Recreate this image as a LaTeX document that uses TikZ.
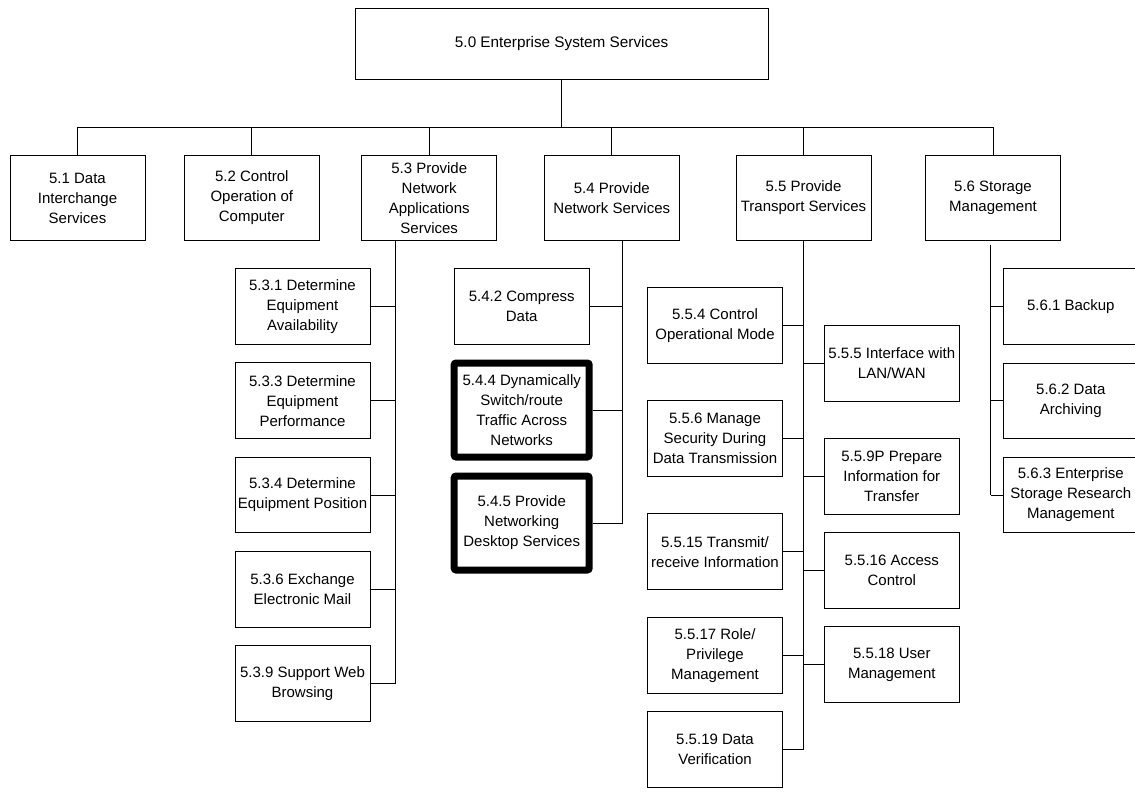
\documentclass[tikz,border=0pt]{standalone}
\usepackage{fontspec}
\setmainfont{Liberation Sans}
\begin{document}
\begin{tikzpicture}[x=1pt,y=-1pt,
  box/.style={draw=black, line width=1pt, fill=white, minimum width=135pt,
    minimum height=75.6pt, inner sep=0pt, align=center,
    font=\fontsize{15}{20}\selectfont},
  topbox/.style={box, minimum height=85.4pt},
  keybox/.style={box, line width=7pt, rounded corners=2pt, minimum height=94pt},
  rootbox/.style={box, minimum width=413.3pt, minimum height=70.7pt,
    font=\fontsize{15.3}{20}\selectfont},
  link/.style={draw=black, line width=0.9pt}]
\useasboundingbox (0,0) rectangle (1135,793);

% root
\node[rootbox] (n50) at (561.7,43.7) {5.0 Enterprise System Services};

% first level
\node[topbox] (n51) at (77.5,198) {5.1 Data\\Interchange\\Services};
\node[topbox] (n52) at (251.8,198) {5.2 Control\\Operation of\\Computer};
\node[topbox] (n53) at (429.2,198) {5.3 Provide\\Network\\Applications\\Services};
\node[topbox] (n54) at (611.8,198) {5.4 Provide\\Network Services};
\node[topbox] (n55) at (803.5,198) {5.5 Provide\\Transport Services};
\node[topbox] (n56) at (993,198) {5.6 Storage\\Management};

% 5.3 branch
\node[box] (n531) at (302.5,306.3) {5.3.1 Determine\\Equipment\\Availability};
\node[box] (n533) at (302.5,400.7) {5.3.3 Determine\\Equipment\\Performance};
\node[box] (n534) at (302.5,495) {5.3.4 Determine\\Equipment Position};
\node[box] (n536) at (302.5,589.5) {5.3.6 Exchange\\Electronic Mail};
\node[box] (n539) at (302.5,683.5) {5.3.9 Support Web\\Browsing};

% 5.4 branch
\node[box] (n542) at (521.7,306.7) {5.4.2 Compress\\Data};
\node[keybox] (n544) at (521.7,410) {5.4.4 Dynamically\\Switch/route\\Traffic Across\\Networks};
\node[keybox] (n545) at (521.7,523) {5.4.5 Provide\\Networking\\Desktop Services};

% 5.5 branch, left column
\node[box] (n554) at (715,325.5) {5.5.4 Control\\Operational Mode};
\node[box] (n556) at (715,438.7) {5.5.6 Manage\\Security During\\Data Transmission};
\node[box] (n5515) at (715,551.7) {5.5.15 Transmit/\\receive Information};
\node[box] (n5517) at (715,655.2) {5.5.17 Role/\\Privilege\\Management};
\node[box] (n5519) at (715,749.5) {5.5.19 Data\\Verification};

% 5.5 branch, right column
\node[box] (n555) at (891.8,363.2) {5.5.5 Interface with\\LAN/WAN};
\node[box] (n559) at (891.8,476.2) {5.5.9P Prepare\\Information for\\Transfer};
\node[box] (n5516) at (891.8,570.5) {5.5.16 Access\\Control};
\node[box] (n5518) at (891.8,664.5) {5.5.18 User\\Management};

% 5.6 branch
\node[box] (n561) at (1070.8,306.5) {5.6.1 Backup};
\node[box] (n562) at (1070.8,400.8) {5.6.2 Data\\Archiving};
\node[box] (n563) at (1070.8,495) {5.6.3 Enterprise\\Storage Research\\Management};

% bus under the root
\coordinate (hub) at (561.7,127.3);
\draw[link] (n50.south) -- (hub);
\draw[link] (n51.north) |- (hub) -| (n56.north);
\foreach \n in {n52,n53,n54,n55}
  \draw[link] (\n.north) -- (\n.north |- hub);

% trunks of the branches
\coordinate (t53) at ([xshift=-34.2pt]n53.south);
\coordinate (t54) at ([xshift=10.5pt]n54.south);
\coordinate (t55) at (n55.south);
\coordinate (t56) at ([xshift=-2.3pt,yshift=-3.5pt]n56.south);

\draw[link] (t53) |- (n539.east);
\foreach \n in {n531,n533,n534,n536}
  \draw[link] (\n.east) -- (\n.east -| t53);

\draw[link] (t54) |- (n545.east);
\foreach \n in {n542,n544}
  \draw[link] (\n.east) -- (\n.east -| t54);

\draw[link] (t55) |- (n5519.east);
\foreach \n in {n554,n556,n5515,n5517}
  \draw[link] (\n.east) -- (\n.east -| t55);
\foreach \n in {n555,n559,n5516,n5518}
  \draw[link] (\n.west) -- (\n.west -| t55);

\draw[link, line width=1.4pt] (t56) -- (t56 |- n563.west);
\foreach \n in {n561,n562,n563}
  \draw[link] (\n.west) -- (\n.west -| t56);
\end{tikzpicture}
\end{document}
